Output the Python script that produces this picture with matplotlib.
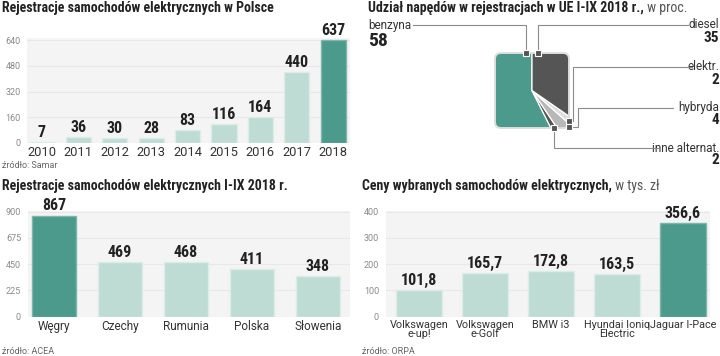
import matplotlib
matplotlib.use('Agg')
import matplotlib.pyplot as plt
from matplotlib import font_manager
from matplotlib.patches import FancyBboxPatch

# ---------------- data ----------------
years = ['2010', '2011', '2012', '2013', '2014', '2015', '2016', '2017', '2018']
pl_regs = [7, 36, 30, 28, 83, 116, 164, 440, 637]
pl_ticks = [0, 160, 320, 480, 640]

countries = ['Węgry', 'Czechy', 'Rumunia', 'Polska', 'Słowenia']
country_regs = [867, 469, 468, 411, 348]
country_ticks = [0, 225, 450, 675, 900]

cars = ['Volkswagen\ne-up!', 'Volkswagen\ne-Golf', 'BMW i3', 'Hyundai Ioniq\nElectric', 'Jaguar I-Pace']
prices = [101.8, 165.7, 172.8, 163.5, 356.6]
price_labels = ['101,8', '165,7', '172,8', '163,5', '356,6']
price_ticks = [0, 100, 200, 300, 400]

fuel_names = ['benzyna', 'inne alternat.', 'hybryda', 'elektr.', 'diesel']
fuel_shares = [58, 2, 4, 2, 35]

# ---------------- fonts ----------------
avail = {f.name for f in font_manager.fontManager.ttflist}
def pick(*names):
    for n in names:
        if n in avail:
            return n
    return 'DejaVu Sans'
COND = pick('Liberation Sans Narrow', 'Roboto Condensed', 'Open Sans Condensed', 'Liberation Sans')
REG = pick('Roboto', 'Lato', 'Noto Sans', 'DejaVu Sans')

LIGHT = '#bfdcd4'
LIGHT_EDGE = '#dcece7'
DARK = '#4b9a8b'
DARK_EDGE = '#7db7ab'
BG = '#f4f4f4'

W, H = 720, 356
fig = plt.figure(figsize=(7.2, 3.56), dpi=100)
fig.patch.set_facecolor('white')

def Y(y):
    return H - y

def bar_panel(rect, cats, vals, labels, xlim, ylim, yticks, highlight, width, xfs=8.5, lsp=1.0):
    ax = fig.add_axes(rect)
    ax.set_facecolor(BG)
    x = list(range(len(vals)))
    colors = [DARK if i == highlight else LIGHT for i in x]
    edges = [DARK_EDGE if i == highlight else LIGHT_EDGE for i in x]
    ax.bar(x, vals, width=width, color=colors, edgecolor=edges, linewidth=1.0, zorder=3)
    for xi, v, lab in zip(x, vals, labels):
        ax.annotate(lab, (xi, v), xytext=(0, 1.5), textcoords='offset points',
                    ha='center', va='bottom', fontsize=11.5, fontweight='bold',
                    family=COND, color='#222222', zorder=4)
    ax.set_xlim(*xlim)
    ax.set_ylim(*ylim)
    ax.set_yticks(yticks)
    ax.set_yticklabels([str(t) for t in yticks], fontsize=6.5, color='#8a8a8a', family=REG)
    ax.set_xticks(x)
    ax.set_xticklabels(cats, fontsize=xfs, color='#333333', family=REG, linespacing=lsp)
    ax.tick_params(axis='both', length=0)
    ax.tick_params(axis='y', pad=5)
    ax.tick_params(axis='x', pad=2.5)
    ax.grid(axis='y', color='#e8e8e8', linewidth=0.8, zorder=0)
    for s in ax.spines.values():
        s.set_visible(False)
    return ax

# panel 1
bar_panel([27.4 / W, (H - 143) / H, 322.2 / W, 104.6 / H], years, pl_regs,
          [str(v) for v in pl_regs], (-0.4, 8.45), (0, 650), pl_ticks, 8, 0.69, xfs=9.3)
# panel 2
bar_panel([28 / W, (H - 316.7) / H, 322 / W, 105.6 / H], countries, country_regs,
          [str(v) for v in country_regs], (-0.394, 4.485), (0, 905), country_ticks, 0, 0.68)
# panel 4
bar_panel([386 / W, (H - 316.7) / H, 324 / W, 105.5 / H], cars, prices,
          price_labels, (-0.5, 4.41), (0, 402), price_ticks, 4, 0.7, xfs=7.8, lsp=0.9)

# overlay axes in pixel coordinates
ov = fig.add_axes([0, 0, 1, 1], zorder=-1)
wedges, _ = ov.pie(fuel_shares, colors=[DARK, '#555555', '#b8b8b8', '#dedede', '#555555'],
                   startangle=90, counterclock=True, radius=60, center=(532, Y(90.5)),
                   wedgeprops=dict(edgecolor='white', linewidth=0.9), frame=True)
ov.set_xlim(0, W)
ov.set_ylim(0, H)
ov.axis('off')
clip = FancyBboxPatch((495, Y(128)), 74, 75, boxstyle='round,pad=0,rounding_size=6',
                      transform=ov.transData, fc='none', ec='none')
ov.add_patch(clip)
for w in wedges:
    w.set_clip_on(True)
    w.set_clip_path(clip)
border = FancyBboxPatch((495, Y(128)), 74, 75, boxstyle='round,pad=0,rounding_size=6',
                        transform=ov.transData, fc='none', ec='#dedede', lw=1.4, zorder=5)
ov.add_patch(border)

leaders = [
    [(413, 25), (526, 25), (526, 53)],
    [(688, 25), (538, 25), (538, 53)],
    [(692, 66.5), (573, 66.5), (573, 121), (569, 121)],
    [(673, 108), (578, 108), (578, 126.5), (569, 126.5)],
    [(660, 148), (554, 148), (554, 128)],
]
for pts in leaders:
    xs = [p[0] for p in pts]
    ys = [Y(p[1]) for p in pts]
    ov.plot(xs, ys, color='#8c8c8c', lw=0.8, zorder=6)
    ov.plot([xs[-1]], [ys[-1]], marker='s', ms=4, mfc='#555555', mec='white', mew=0.8, zorder=7)

# fuel labels
ov.text(368, Y(25), fuel_names[0], fontsize=8.5, family=REG, color='#333333', ha='left', va='center')
ov.text(368, Y(41), str(fuel_shares[0]), fontsize=14, family=COND, fontweight='bold', color='#222222', ha='left', va='center')
right_labels = [(fuel_names[4], fuel_shares[4], 25, 38),
                (fuel_names[3], fuel_shares[3], 66.5, 80),
                (fuel_names[2], fuel_shares[2], 108, 120),
                (fuel_names[1], fuel_shares[1], 148, 160)]
for name, val, y1, y2 in right_labels:
    ov.text(719, Y(y1), name, fontsize=8.5, family=REG, color='#333333', ha='right', va='center')
    ov.text(719, Y(y2), str(val), fontsize=11, family=COND, fontweight='bold', color='#222222', ha='right', va='center')

# titles
def title(x, y, bold, regular=None):
    t = fig.text(x / W, Y(y) / H, bold, fontsize=10, family=COND, fontweight='bold',
                 color='#222222', ha='left', va='center')
    if regular:
        fig.canvas.draw()
        bb = t.get_window_extent()
        fig.text(bb.x1 / W, Y(y) / H, regular, fontsize=10, family=COND,
                 color='#555555', ha='left', va='center')

title(2, 8, 'Rejestracje samochodów elektrycznych w Polsce')
title(368, 8, 'Udział napędów w rejestracjach w UE I-IX 2018 r.,', ' w proc.')
title(2, 186, 'Rejestracje samochodów elektrycznych I-IX 2018 r.')
title(362, 186, 'Ceny wybranych samochodów elektrycznych,', ' w tys. zł')

# sources
for x, y, s in [(2, 165, 'źródło: Samar'), (2, 352, 'źródło: ACEA'), (362, 352, 'źródło: ORPA')]:
    fig.text(x / W, Y(y) / H, s, fontsize=6.5, family=REG, color='#666666', ha='left', va='center')

fig.savefig('out.png', dpi=100)
